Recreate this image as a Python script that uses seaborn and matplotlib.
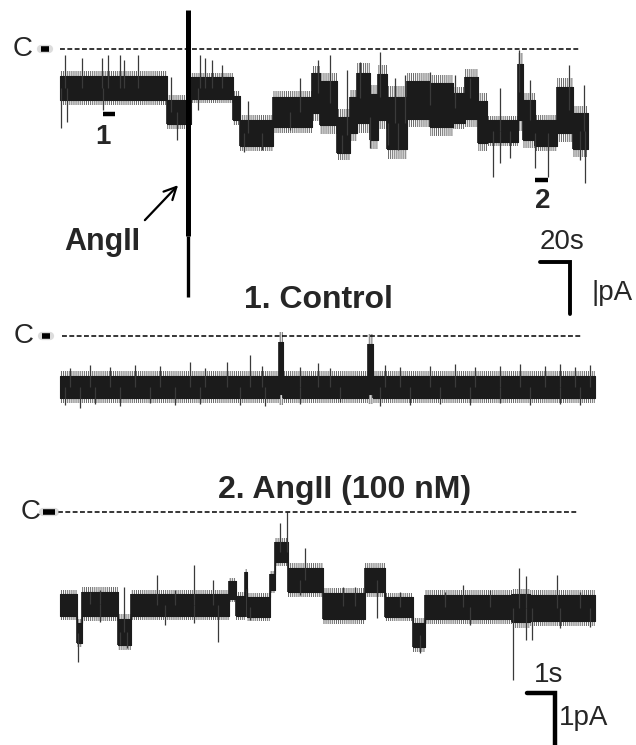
import numpy as np
import matplotlib
matplotlib.use("Agg")
import matplotlib.pyplot as plt
import seaborn as sns

sns.set_style("white")
plt.rcParams["font.family"] = ["Liberation Sans", "DejaVu Sans"]
plt.rcParams["hatch.linewidth"] = 0.7

W, H = 636, 745
TRACE = "#1b1b1b"

# ---- top trace: whole recording, time in s, current in pA (0 = closed level C)
top_seg_t = [0, 71, 87, 115, 120, 142, 168, 173.3, 184.7, 193.3, 198, 206.7, 212, 218, 231.3,
             246.7, 262, 270, 278.7, 284.7, 305.3, 308.7, 316.7, 331.3, 342]
top_seg_i = [-0.75, -1.21, -0.75, -1.13, -1.62, -1.21, -0.85, -1.04, -1.65, -1.27, -0.94, -1.31, -0.92, -1.42, -0.98,
             -1.08, -1.13, -0.94, -1.40, -1.58, -0.83, -1.37, -1.62, -1.17, -1.58]
top_seg_hw = [0.23, 0.23, 0.21, 0.23, 0.25, 0.29, 0.38, 0.42, 0.35, 0.35, 0.48, 0.44, 0.44, 0.50, 0.37,
              0.42, 0.29, 0.40, 0.40, 0.21, 0.54, 0.38, 0.25, 0.44, 0.35]
top_end = 352
top_up_t = [3.3, 14.7, 28, 32, 40, 42.7, 52, 74, 93.3, 96.7, 101.3, 108, 125, 160, 172, 180, 191.3,
            200, 213.3, 223.3, 230, 246.7, 263.3, 273.3, 293.3, 306, 313.3, 339.3, 349.3]
top_up_i = [-0.12, -0.17, -0.17, -0.12, -0.12, -0.21, -0.12, -0.54, -0.12, -0.17, -0.21, -0.31, -1.0, -0.56, -0.21, -0.12, -0.40,
            -0.25, -0.06, -0.56, -0.50, -0.44, -0.50, -0.56, -0.75, -0.02, -0.60, -0.31, -0.69]
top_dn_t = [0.7, 4.7, 28.7, 78, 92, 122.7, 134.7, 153.3, 188, 206.7, 218.7, 225.3,
            288.7, 293.3, 300, 316.7, 325.3, 346.7, 350]
top_dn_i = [-1.52, -1.40, -1.17, -1.75, -1.17, -1.98, -1.94, -1.56, -2.00, -1.90, -1.85, -1.94,
            -2.46, -2.19, -2.10, -2.29, -2.46, -2.13, -2.58]
angii_t = 85.3
angii_range = (0.75, -4.77)

# ---- 1. Control: time in s, current in pA
ctl_seg_t = [0, 7.82, 7.96, 11.0, 11.18]
ctl_seg_i = [-0.98, -0.62, -0.98, -0.63, -0.98]
ctl_seg_hw = [0.22, 0.50, 0.22, 0.48, 0.22]
ctl_end = 19.1
ctl_up_t = [0.36, 1.07, 1.79, 2.68, 3.57, 4.64, 5.18, 5.96, 6.79, 7.21, 8.57, 9.21, 9.64,
            11.61, 12.14, 13.21, 14.11, 14.82, 15.71, 16.43, 17.32, 17.86, 18.39, 18.93]
ctl_up_i = [-0.62, -0.56, -0.60, -0.56, -0.58, -0.50, -0.62, -0.50, -0.37, -0.58, -0.60, -0.52, -0.62,
            -0.56, -0.60, -0.58, -0.54, -0.60, -0.58, -0.54, -0.58, -0.54, -0.60, -0.56]
ctl_dn_t = [0.18, 0.71, 1.25, 2.14, 3.21, 4.11, 5.0, 6.43, 7.32, 8.57, 10.0, 11.43,
            12.5, 13.57, 14.64, 15.71, 16.79, 17.86, 18.57]
ctl_dn_i = [-1.33, -1.38, -1.31, -1.35, -1.29, -1.33, -1.31, -1.33, -1.35, -1.31, -1.27, -1.35,
            -1.33, -1.31, -1.33, -1.29, -1.33, -1.31, -1.33]

# ---- 2. AngII (100 nM): time in s, current in pA
ang_seg_t = [0, 0.61, 0.79, 2.07, 2.54, 6.04, 6.29, 6.61, 6.68, 7.5, 7.68, 8.14,
             9.39, 10.89, 11.61, 12.61, 13.04, 16.14, 16.79]
ang_seg_i = [-1.79, -2.33, -1.77, -2.31, -1.79, -1.50, -1.81, -1.31, -1.83, -1.35, -0.77, -1.31,
             -1.81, -1.31, -1.83, -2.37, -1.83, -1.85, -1.85]
ang_seg_hw = [0.21, 0.19, 0.23, 0.25, 0.21, 0.17, 0.19, 0.15, 0.19, 0.15, 0.19, 0.23,
              0.25, 0.23, 0.19, 0.23, 0.23, 0.27, 0.25]
ang_end = 19.11
ang_up_t = [1.07, 1.43, 2.29, 3.46, 4.11, 4.79, 5.46, 7.86, 8.11, 8.75, 10.11, 10.54,
            12.14, 13.75, 14.39, 15.36, 16.39, 16.64, 17.75, 18.57]
ang_up_i = [-1.54, -1.50, -1.44, -1.21, -1.50, -1.02, -1.31, -0.21, 0.0, -0.69, -1.44, -1.44,
            -1.54, -1.54, -1.40, -1.50, -1.08, -1.23, -1.21, -1.54]
ang_dn_t = [0.64, 1.43, 2.14, 2.39, 3.75, 4.79, 5.64, 6.79, 8.57, 11.32, 12.86,
            14.64, 16.18, 16.64, 16.86, 17.86, 18.93]
ang_dn_i = [-2.88, -2.12, -2.56, -2.62, -2.17, -2.13, -2.50, -2.08, -1.60, -2.04, -2.71,
            -2.17, -3.23, -2.46, -2.46, -2.23, -2.21]

fig = plt.figure(figsize=(W / 100, H / 100), dpi=100)


def panel(x0, px_per_s, y0, px_per_pa):
    # full-figure axes, scaled so that the scale bars come out right
    ax = fig.add_axes([0, 0, 1, 1])
    ax.set_xlim(-x0 / px_per_s, (W - x0) / px_per_s)
    ax.set_ylim((y0 - H) / px_per_pa, y0 / px_per_pa)
    ax.axis("off")
    ax.patch.set_alpha(0)
    return ax


def draw_trace(ax, seg_t, seg_i, seg_hw, t_end, up_t, up_i, dn_t, dn_i):
    t = np.append(seg_t, t_end)
    lvl = np.append(seg_i, seg_i[-1])
    hw = np.append(seg_hw, seg_hw[-1])
    # fuzzy fringe of the noise, then the solid core
    ax.fill_between(t, lvl - 1.4 * hw, lvl + 1.4 * hw, step="post", facecolor="none",
                    edgecolor="#666666", hatch="||||||||", lw=0)
    ax.fill_between(t, lvl - hw, lvl + hw, step="post", color=TRACE, lw=0.8, edgecolor=TRACE)
    # level transitions
    lo, hi = lvl - hw, lvl + hw
    ax.vlines(t[1:-1], np.minimum(lo[:-2], lo[1:-1]), np.maximum(hi[:-2], hi[1:-1]), color=TRACE, lw=1.2)
    for ts, peaks in ((up_t, up_i), (dn_t, dn_i)):
        k = np.searchsorted(seg_t, ts, side="right") - 1
        base = np.asarray(seg_i)[k]
        ax.vlines(ts, base, peaks, color="#3a3a3a", lw=0.9)


def closed_line(ax, t0, t1, t_text, t_mark):
    sns.lineplot(x=[t0, t1], y=[0, 0], ax=ax, color="black", lw=1.1,
                 linestyle=(0, (3.2, 1.6)), estimator=None)
    ax.plot(t_mark, [0, 0], color="#bbbbbb", lw=6, alpha=0.5, solid_capstyle="round")
    ax.plot(t_mark, [0, 0], color="black", lw=4, solid_capstyle="butt")
    ax.text(t_text, 0, "C", fontsize=20, ha="center", va="center")


# top
ax1 = panel(60, 1.5, 49, 52)
draw_trace(ax1, top_seg_t, top_seg_i, top_seg_hw, top_end, top_up_t, top_up_i, top_dn_t, top_dn_i)
ax1.vlines(angii_t, angii_range[0], -3.6, color="black", lw=3.6)
ax1.vlines(angii_t, -3.6, angii_range[1], color="black", lw=2.4)
closed_line(ax1, 0, 346.7, -24.7, [-12.7, -7.3])
ax1.plot([28.7, 36.7], [-1.25, -1.25], color="black", lw=3.2, solid_capstyle="butt")
ax1.text(28.7, -1.7, "1", fontsize=20, fontweight="bold", ha="center", va="center")
ax1.plot([316.7, 325.3], [-2.52, -2.52], color="black", lw=3.2, solid_capstyle="butt")
ax1.text(322, -2.92, "2", fontsize=20, fontweight="bold", ha="center", va="center")
ax1.annotate("", xy=(80, -2.58), xytext=(55.3, -3.33),
             arrowprops=dict(arrowstyle="->", lw=1.6, color="black", mutation_scale=22))
ax1.text(28, -3.71, "AngII", fontsize=22, fontweight="bold", ha="center", va="center")
ax1.plot([320, 340, 340], [-4.1, -4.1, -5.1], color="black", lw=2.8, solid_joinstyle="miter")
ax1.text(334.7, -3.71, "20s", fontsize=20, ha="center", va="center")
ax1.text(368, -4.69, "|pA", fontsize=20, ha="center", va="center")

# 1. Control
ax2 = panel(60, 28, 336, 52)
draw_trace(ax2, ctl_seg_t, ctl_seg_i, ctl_seg_hw, ctl_end, ctl_up_t, ctl_up_i, ctl_dn_t, ctl_dn_i)
closed_line(ax2, 0.07, 18.64, -1.29, [-0.64, -0.36])

# 2. AngII
ax3 = panel(60, 28, 512, 52)
draw_trace(ax3, ang_seg_t, ang_seg_i, ang_seg_hw, ang_end, ang_up_t, ang_up_i, ang_dn_t, ang_dn_i)
closed_line(ax3, -0.07, 18.5, -1.04, [-0.61, -0.18])
ax3.plot([16.68, 17.68, 17.68], [-3.48, -3.48, -4.55], color="black", lw=3.2, solid_joinstyle="miter")
ax3.text(17.46, -3.13, "1s", fontsize=20, ha="center", va="center")
ax3.text(18.71, -3.96, "1pA", fontsize=20, ha="center", va="center")

fig.text(318 / W, 1 - 308 / H, "1. Control", fontsize=23, fontweight="bold", ha="center", va="baseline")
fig.text(345 / W, 1 - 498 / H, "2. AngII (100 nM)", fontsize=23, fontweight="bold", ha="center", va="baseline")

fig.savefig("out.png", dpi=100, facecolor="white")
